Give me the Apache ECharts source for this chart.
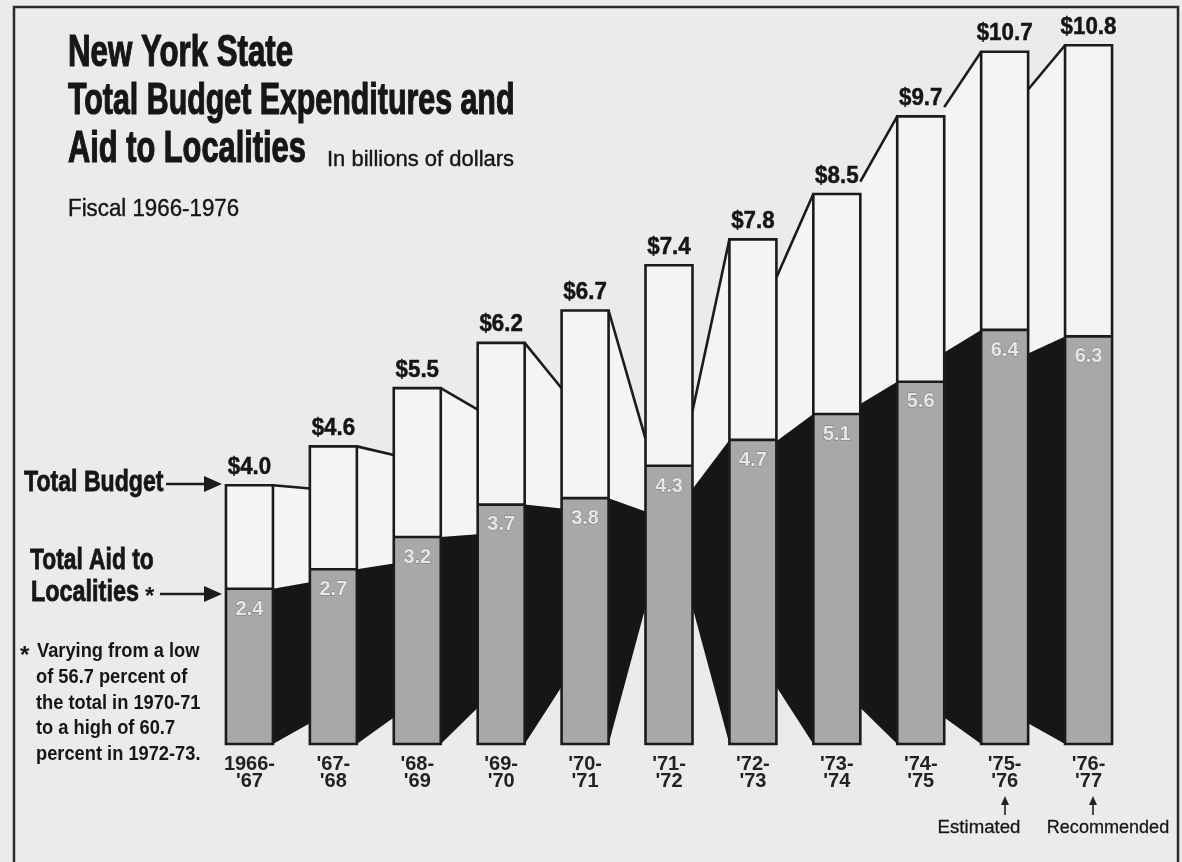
<!DOCTYPE html>
<html>
<head>
<meta charset="utf-8">
<title>New York State Total Budget Expenditures and Aid to Localities</title>
<script src="https://cdn.jsdelivr.net/npm/echarts@6/dist/echarts.min.js"></script>
<style>
  html, body { margin: 0; padding: 0; background: #ebebeb; }
  #chart { width: 1182px; height: 862px; }
</style>
</head>
<body>
<div id="chart"></div>
<script>
// Fiscal years (two-line tick labels)
const fiscalYears = ["1966-\n'67", "'67-\n'68", "'68-\n'69", "'69-\n'70", "'70-\n'71", "'71-\n'72",
                     "'72-\n'73", "'73-\n'74", "'74-\n'75", "'75-\n'76", "'76-\n'77"];
// Total budget expenditures, billions of dollars
const totalBudget = [4.0, 4.6, 5.5, 6.2, 6.7, 7.4, 7.8, 8.5, 9.7, 10.7, 10.8];
// Total aid to localities, billions of dollars
const aidToLocalities = [2.4, 2.7, 3.2, 3.7, 3.8, 4.3, 4.7, 5.1, 5.6, 6.4, 6.3];

// Perspective: side faces of the bars recede toward this point (category index, value)
const VANISH = [5.01, 3.46];
const BAR_FRAC = 0.56;

const PAPER = '#ebebeb';
const WHITE = '#f4f4f4';
const GREY = '#a8a8a8';
const BLACK = '#161616';
const INK = '#1b1b1b';
const FONT = '"Liberation Sans", Arial, sans-serif';

const barData = totalBudget.map((t, i) => [i, t, aidToLocalities[i]]);

// Visible side face of each bar: the right face left of the vanishing point,
// the left face right of it, cut off where the neighbouring bar hides it.
function sideFace(params, api) {
  const i = params.dataIndex;
  const n = totalBudget.length;
  const half = api.size([1, 0])[0] * BAR_FRAC / 2;
  const base = api.coord([i, 0]);
  const vp = api.coord(VANISH);
  const left = base[0] - half, right = base[0] + half;
  let x0, x1;
  if (right < vp[0] && i < n - 1) {
    x0 = right; x1 = api.coord([i + 1, 0])[0] - half;
  } else if (left > vp[0] && i > 0) {
    x0 = left; x1 = api.coord([i - 1, 0])[0] + half;
  } else {
    return null;
  }
  const yT = api.coord([i, api.value(1)])[1];
  const yA = api.coord([i, api.value(2)])[1];
  const yB = base[1];
  const proj = y => y + (vp[1] - y) * (x1 - x0) / (vp[0] - x0);
  return {
    type: 'group',
    children: [
      { type: 'polygon', shape: { points: [[x0, yT], [x1, proj(yT)], [x1, proj(yA)], [x0, yA]] },
        style: { fill: WHITE } },
      { type: 'polygon', shape: { points: [[x0, yA], [x1, proj(yA)], [x1, proj(yB)], [x0, yB]] },
        style: { fill: BLACK } },
      { type: 'line', shape: { x1: x0, y1: yT, x2: x1, y2: proj(yT) },
        style: { stroke: INK, lineWidth: 2.6 } }
    ]
  };
}

// Front face: white part for the rest of the budget, grey part for aid to localities.
function frontFace(params, api) {
  const i = params.dataIndex;
  const total = api.value(1), aid = api.value(2);
  const w = api.size([1, 0])[0] * BAR_FRAC;
  const top = api.coord([i, total]);
  const mid = api.coord([i, aid]);
  const base = api.coord([i, 0]);
  const x = top[0] - w / 2;
  return {
    type: 'group',
    children: [
      { type: 'rect', shape: { x: x, y: top[1], width: w, height: mid[1] - top[1] }, style: { fill: WHITE } },
      { type: 'rect', shape: { x: x, y: mid[1], width: w, height: base[1] - mid[1] }, style: { fill: GREY } },
      { type: 'rect', shape: { x: x, y: top[1], width: w, height: base[1] - top[1] },
        style: { fill: 'none', stroke: INK, lineWidth: 2.6 } },
      { type: 'line', shape: { x1: x, y1: mid[1], x2: x + w, y2: mid[1] },
        style: { stroke: INK, lineWidth: 2.6 } },
      { type: 'text', x: top[0], y: top[1] - 18, scaleX: 0.93,
        style: { text: '$' + total.toFixed(1), font: 'bold 24px ' + FONT, fill: '#151515',
                 stroke: '#151515', lineWidth: 0.5,
                 textAlign: 'center', textVerticalAlign: 'middle' } },
      { type: 'text', x: top[0], y: mid[1] + 20, scaleX: 0.95,
        style: { text: aid.toFixed(1), font: 'bold 21px ' + FONT, fill: '#e6e6e6',
                 stroke: '#777777', lineWidth: 0.8,
                 textAlign: 'center', textVerticalAlign: 'middle' } }
    ]
  };
}

function txt(text, x, y, size, weight, sx, align, heavy) {
  return {
    type: 'text', x: x, y: y, scaleX: sx, z: 10,
    style: { text: text, font: weight + ' ' + size + 'px ' + FONT, fill: '#161616',
             stroke: heavy ? '#161616' : null, lineWidth: heavy || 0,
             textAlign: align || 'left', textVerticalAlign: 'middle' }
  };
}

function arrowRight(x0, x1, y) {
  return [
    { type: 'line', z: 10, shape: { x1: x0, y1: y, x2: x1 - 14, y2: y }, style: { stroke: INK, lineWidth: 2.6 } },
    { type: 'polygon', z: 10, shape: { points: [[x1, y], [x1 - 18, y - 8], [x1 - 18, y + 8]] }, style: { fill: INK } }
  ];
}

function arrowUp(x, y0, y1) {
  return [
    { type: 'line', z: 10, shape: { x1: x, y1: y0, x2: x, y2: y1 + 6 }, style: { stroke: '#222', lineWidth: 1.6 } },
    { type: 'polygon', z: 10, shape: { points: [[x, y1], [x - 4, y1 + 9], [x + 4, y1 + 9]] }, style: { fill: '#222' } }
  ];
}

const chart = echarts.init(document.getElementById('chart'), null, { renderer: 'canvas' });

chart.setOption({
  backgroundColor: PAPER,
  animation: false,
  grid: { left: 207.5, right: 51.5, top: 32.3, bottom: 118 },
  xAxis: {
    type: 'category',
    data: fiscalYears,
    boundaryGap: true,
    axisLine: { show: false },
    axisTick: { show: false },
    splitLine: { show: false },
    axisLabel: {
      margin: 12, fontFamily: FONT, fontSize: 20, fontWeight: 'bold', lineHeight: 17,
      color: '#222222', interval: 0
    }
  },
  yAxis: {
    type: 'value', min: 0, max: 11,
    show: false, splitLine: { show: false }
  },
  series: [
    { type: 'custom', name: 'sides', z: 1, renderItem: sideFace, data: barData,
      encode: { x: 0, y: 1 }, clip: false, silent: true },
    { type: 'custom', name: 'fronts', z: 2, renderItem: frontFace, data: barData,
      encode: { x: 0, y: 1 }, clip: false, silent: true }
  ],
  graphic: [
    { type: 'rect', z: 0, shape: { x: 14, y: 7, width: 1164, height: 870 },
      style: { fill: 'none', stroke: '#2a2a2a', lineWidth: 2.5 } },
    txt('New York State', 68, 54, 44, 'bold', 0.71, 'left', 1.2),
    txt('Total Budget Expenditures and', 68, 101.5, 44, 'bold', 0.69, 'left', 1.2),
    txt('Aid to Localities', 68, 150, 44, 'bold', 0.70, 'left', 1.2),
    txt('In billions of dollars', 327, 160, 22, 'normal', 1.0, 'left', 0.4),
    txt('Fiscal 1966-1976', 68, 209.5, 23, 'normal', 0.97, 'left', 0.4),
    txt('Total Budget', 24, 482.5, 30, 'bold', 0.77, 'left', 0.8),
    ...arrowRight(166, 222, 484),
    txt('Total Aid to', 30, 561, 30, 'bold', 0.76, 'left', 0.8),
    txt('Localities', 31, 593, 30, 'bold', 0.78, 'left', 0.8),
    txt('*', 145, 597, 24, 'bold', 1.0),
    ...arrowRight(160, 222, 594),
    txt('*', 20, 656, 24, 'bold', 1.0),
    txt('Varying from a low', 37, 651, 21, 'bold', 0.87),
    txt('of 56.7 percent of', 36, 677, 21, 'bold', 0.87),
    txt('the total in 1970-71', 36, 703, 21, 'bold', 0.87),
    txt('to a high of 60.7', 36, 728, 21, 'bold', 0.87),
    txt('percent in 1972-73.', 36, 754, 21, 'bold', 0.87),
    ...arrowUp(1005, 815, 796),
    ...arrowUp(1093, 815, 796),
    txt('Estimated', 979, 828, 19, 'normal', 0.98, 'center', 0.3),
    txt('Recommended', 1108, 828, 19, 'normal', 0.95, 'center', 0.3)
  ]
});
</script>
</body>
</html>
